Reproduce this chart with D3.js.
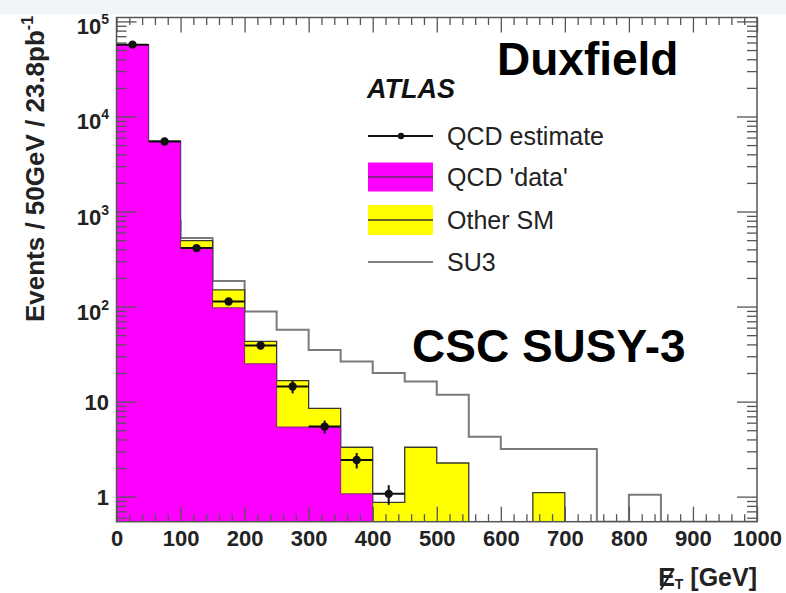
<!DOCTYPE html>
<html>
<head>
<meta charset="utf-8">
<script src="https://cdn.jsdelivr.net/npm/d3@7"></script>
<style>
  body { margin: 0; background: #fff; }
  svg { display: block; font-family: "Liberation Sans", Arial, Helvetica, sans-serif; }
</style>
</head>
<body>
<svg id="chart" width="786" height="593"></svg>
<script>
////////// data (50 GeV bins, 0-1000 GeV) //////////
const binEdges = d3.range(0, 1001, 50);
const qcdData  = [57000, 5460, 412, 97, 25, 5.4, 5.4, 1.07, 0, 0, 0, 0, 0, 0, 0, 0, 0, 0, 0, 0];
const otherSM  = [150, 40, 83, 53, 18, 11.2, 3.1, 2.24, 0.87, 3.31, 2.26, 0, 0, 1.1, 0, 0, 0, 0, 0, 0];
const su3      = [1200, 800, 525, 186, 88.6, 56.9, 35, 26.4, 20, 16.3, 11.8, 4.28, 3.18, 3.18, 3.18, 0, 1.05, 0, 0, 0];
const qcdEst    = [57000, 5460, 412, 113, 39, 14.4, 5.46, 2.43, 1.07];
const qcdEstErr = [500, 100, 15, 6, 3.5, 2.2, 0.85, 0.45, 0.25];

const xMajor = [0, 100, 200, 300, 400, 500, 600, 700, 800, 900, 1000];
const yMajor = [1, 10, 100, 1000, 10000, 100000];
const yLabels = [["1", ""], ["10", ""], ["10", "2"], ["10", "3"], ["10", "4"], ["10", "5"]];
const legendItems = ["QCD estimate", "QCD 'data'", "Other SM", "SU3"];

////////// layout //////////
const pLeft = 116.5, pRight = 757, pTop = 17.5, pBottom = 521.7;

const svg = d3.select("#chart");
svg.append("rect").attr("width", 786).attr("height", 593).attr("fill", "#fff");
svg.append("rect").attr("width", 786).attr("height", 14).attr("fill", "#f1f4f8");

const x = d3.scaleLinear().domain([0, 1000]).range([pLeft, pRight]);
const y = d3.scaleLog().domain([0.545, 1.1e5]).range([pBottom, pTop]).clamp(true);

const yMinor = [];
[0.1, 1, 10, 100, 1000, 10000].forEach(d => {
  for (let k = 2; k <= 9; k++) if (d * k >= 0.545 && d * k <= 1.1e5) yMinor.push(d * k);
});
const xMinor = d3.range(0, 1001, 20).filter(v => v % 100 !== 0);

svg.append("defs").append("clipPath").attr("id", "plotClip")
  .append("rect").attr("x", pLeft).attr("y", pTop).attr("width", pRight - pLeft).attr("height", pBottom - pTop);

const plot = svg.append("g").attr("clip-path", "url(#plotClip)");

// step points for a histogram
function stepPoints(vals) {
  const p = [[binEdges[0], 0]];
  vals.forEach((v, i) => { p.push([binEdges[i], v]); p.push([binEdges[i + 1], v]); });
  p.push([binEdges[binEdges.length - 1], 0]);
  return p;
}
const yv = v => y(Math.max(v, 1e-3));

const stepLine = d3.line().x(d => x(d[0])).y(d => yv(d[1]));
const stepArea = d3.area().x(d => x(d[0])).y0(pBottom).y1(d => yv(d[1]));

// SU3 (drawn behind the stack)
plot.append("path")
  .attr("d", stepLine(stepPoints(su3)))
  .attr("fill", "none").attr("stroke", "#7a7a7a").attr("stroke-width", 2);

// Other SM stacked on QCD
const stackTop = qcdData.map((v, i) => v + otherSM[i]);
plot.append("path")
  .attr("d", stepArea(stepPoints(stackTop)))
  .attr("fill", "#ffff00").attr("stroke", "#3a3a2a").attr("stroke-width", 1.3);

// axis ticks (inside the frame)
function tickAxis(axis, tx, ty) {
  const g = svg.append("g").attr("transform", `translate(${tx},${ty})`).call(axis);
  g.select(".domain").remove();
  g.selectAll(".tick line").attr("stroke", "#555").attr("stroke-width", 1.3);
  return g;
}
tickAxis(d3.axisBottom(x).tickValues(xMinor).tickSize(-7.5).tickFormat(""), 0, pBottom);
tickAxis(d3.axisTop(x).tickValues(xMinor).tickSize(-7.5).tickFormat(""), 0, pTop);
tickAxis(d3.axisTop(x).tickValues(xMajor).tickSize(-15).tickFormat(""), 0, pTop);
tickAxis(d3.axisLeft(y).tickValues(yMinor).tickSize(-10).tickFormat(""), pLeft, 0);
tickAxis(d3.axisLeft(y).tickValues(yMajor).tickSize(-20).tickFormat(""), pLeft, 0);
tickAxis(d3.axisRight(y).tickValues(yMinor).tickSize(-10).tickFormat(""), pRight, 0);
tickAxis(d3.axisRight(y).tickValues(yMajor).tickSize(-20).tickFormat(""), pRight, 0);

const xLab = tickAxis(d3.axisBottom(x).tickValues(xMajor).tickSize(-15).tickPadding(9).tickFormat(d3.format("d")), 0, pBottom);
xLab.selectAll(".tick text")
  .attr("font-size", 22).attr("font-weight", "bold").attr("fill", "#222")
  .attr("font-family", "Liberation Sans, Arial, sans-serif");

// QCD 'data'
plot.append("path")
  .attr("d", stepArea(stepPoints(qcdData)))
  .attr("fill", "#ff00ff").attr("stroke", "#7a2a7a").attr("stroke-width", 1);

// frame
svg.append("rect")
  .attr("x", pLeft).attr("y", pTop).attr("width", pRight - pLeft).attr("height", pBottom - pTop)
  .attr("fill", "none").attr("stroke", "#555").attr("stroke-width", 1.5);

// QCD estimate points
const pts = svg.append("g");
qcdEst.forEach((v, i) => {
  const c = (binEdges[i] + binEdges[i + 1]) / 2;
  pts.append("line")
    .attr("x1", x(binEdges[i])).attr("x2", x(binEdges[i + 1]))
    .attr("y1", y(v)).attr("y2", y(v))
    .attr("stroke", "#111").attr("stroke-width", 2);
  pts.append("line")
    .attr("x1", x(c)).attr("x2", x(c))
    .attr("y1", y(v + qcdEstErr[i])).attr("y2", y(v - qcdEstErr[i]))
    .attr("stroke", "#111").attr("stroke-width", 2);
  pts.append("circle").attr("cx", x(c)).attr("cy", y(v)).attr("r", 4.2).attr("fill", "#111");
});

// y tick labels
yMajor.forEach((v, i) => {
  const [base, sup] = yLabels[i];
  const t = svg.append("text")
    .attr("x", 109).attr("y", y(v) + (sup ? 13 : 8))
    .attr("text-anchor", "end").attr("font-size", 22).attr("font-weight", "bold").attr("fill", "#222");
  t.append("tspan").text(base);
  if (sup) t.append("tspan").attr("font-size", 14).attr("dy", -10).text(sup);
});

// axis titles
const xt = svg.append("text")
  .attr("x", 757).attr("y", 586).attr("text-anchor", "end")
  .attr("font-size", 25).attr("font-weight", "bold").attr("fill", "#222");
xt.append("tspan").text("E");
xt.append("tspan").attr("font-size", 14).attr("dy", 3).text("T");
xt.append("tspan").attr("dy", -3).text(" [GeV]");
const eBox = xt.node().getExtentOfChar(0);
svg.append("line")
  .attr("x1", eBox.x + eBox.width * 0.95).attr("y1", eBox.y + eBox.height * 0.2)
  .attr("x2", eBox.x + eBox.width * 0.15).attr("y2", eBox.y + eBox.height * 0.95)
  .attr("stroke", "#222").attr("stroke-width", 2);

const yt = svg.append("text")
  .attr("transform", "translate(44,169) rotate(-90)")
  .attr("text-anchor", "middle")
  .attr("font-size", 26).attr("font-weight", "bold").attr("fill", "#222");
yt.append("tspan").text("Events / 50GeV / 23.8pb");
yt.append("tspan").attr("font-size", 16).attr("dy", -11).text("-1");

// legend
svg.append("text").attr("x", 367).attr("y", 98)
  .attr("font-size", 27).attr("font-weight", "bold").attr("font-style", "italic").attr("fill", "#111")
  .text("ATLAS");

const legY = [136, 177, 220, 262];
const lg = svg.append("g");
lg.append("line").attr("x1", 368).attr("x2", 433).attr("y1", legY[0]).attr("y2", legY[0])
  .attr("stroke", "#111").attr("stroke-width", 2);
lg.append("circle").attr("cx", 401).attr("cy", legY[0]).attr("r", 3.2).attr("fill", "#111");
lg.append("rect").attr("x", 368).attr("y", legY[1] - 14.5).attr("width", 65).attr("height", 29).attr("fill", "#ff00ff");
lg.append("line").attr("x1", 368).attr("x2", 433).attr("y1", legY[1]).attr("y2", legY[1])
  .attr("stroke", "#6a2a6a").attr("stroke-width", 1.5);
lg.append("rect").attr("x", 368).attr("y", legY[2] - 15).attr("width", 65).attr("height", 30).attr("fill", "#ffff00");
lg.append("line").attr("x1", 368).attr("x2", 433).attr("y1", legY[2]).attr("y2", legY[2])
  .attr("stroke", "#333").attr("stroke-width", 1.5);
lg.append("line").attr("x1", 368).attr("x2", 433).attr("y1", legY[3]).attr("y2", legY[3])
  .attr("stroke", "#555").attr("stroke-width", 1.5);
legendItems.forEach((s, i) => {
  lg.append("text").attr("x", 447).attr("y", legY[i] + 9)
    .attr("font-size", 25).attr("fill", "#222").text(s);
});

// labels
svg.append("text").attr("x", 497).attr("y", 75)
  .attr("font-size", 46).attr("font-weight", "bold").attr("fill", "#000").text("Duxfield");
svg.append("text").attr("x", 412).attr("y", 362)
  .attr("font-size", 46).attr("font-weight", "bold").attr("fill", "#000").text("CSC SUSY-3");
</script>
</body>
</html>
